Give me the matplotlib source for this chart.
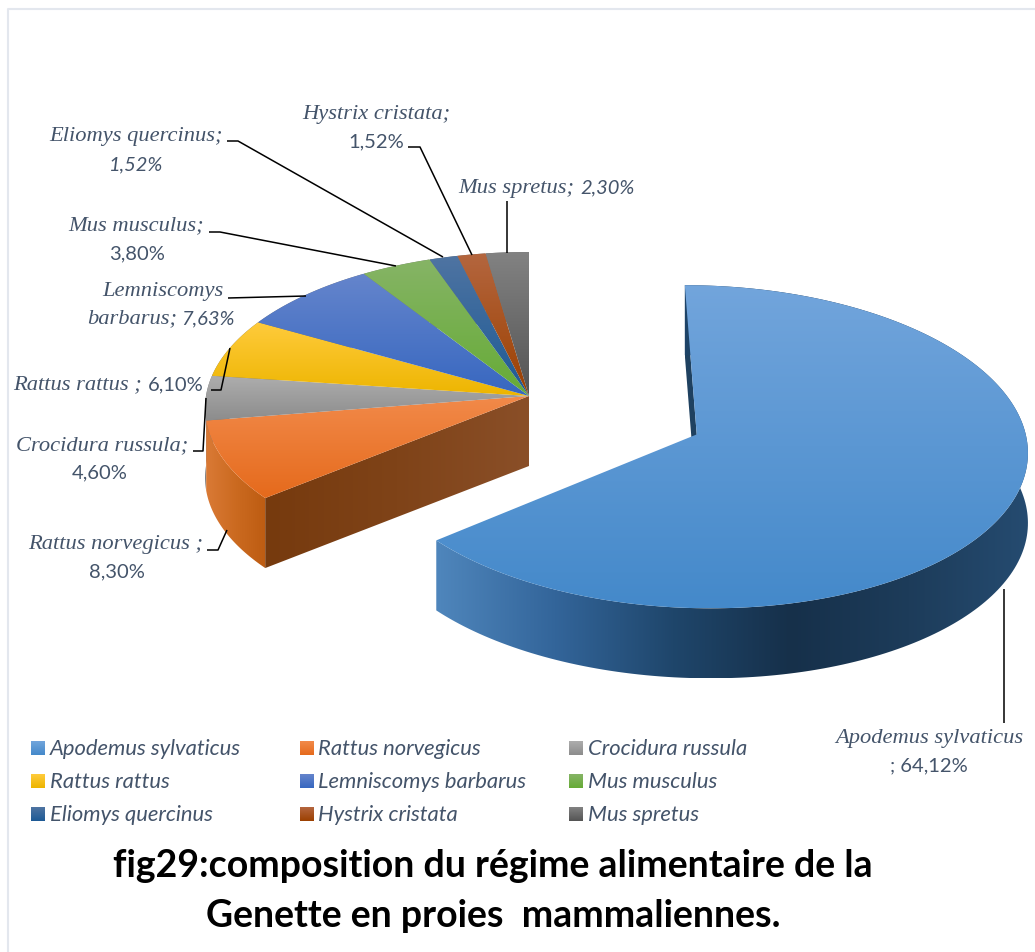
import numpy as np
import matplotlib
matplotlib.use("Agg")
import matplotlib.pyplot as plt
from matplotlib.colors import LinearSegmentedColormap
from matplotlib.patches import Polygon

species = ["Apodemus sylvaticus", "Rattus norvegicus", "Crocidura russula",
           "Rattus rattus", "Lemniscomys barbarus", "Mus musculus",
           "Eliomys quercinus", "Hystrix cristata", "Mus spretus"]
values = [64.12, 8.30, 4.60, 6.10, 7.63, 3.80, 1.52, 1.52, 2.30]
top_light = ["#72A5DC", "#F28A4A", "#ADADAD", "#FFCB3C", "#6585CC", "#86B466", "#4F74A2", "#B4663F", "#828282"]
top_dark = ["#4489CA", "#E56A1C", "#8C8C8C", "#EDB500", "#3767C0", "#66AB36", "#1D5A95", "#9C4000", "#545454"]

# projection of the pie, pixels
x0, y0 = 529, 397
rx, ry = 323, 144
persp = 0.075
depth = 70
explode = 0.565
ry2 = ry * (1 + persp)


def project(u, v, z=0.0):
    s = 1 / (1 + persp * v)
    return x0 + rx * u * s, y0 - ry2 * v * s + depth * z


fig = plt.figure(figsize=(10.35, 9.53), dpi=100)
ax = fig.add_axes([0, 0, 1, 1])


def grad_fill(xy, colors, horizontal=False, zorder=2):
    xy = np.array(xy)
    cmap = LinearSegmentedColormap.from_list("g", colors)
    g = np.linspace(0, 1, 256)
    g = g.reshape(1, -1) if horizontal else g.reshape(-1, 1)
    ext = [xy[:, 0].min(), xy[:, 0].max(), xy[:, 1].max(), xy[:, 1].min()]
    im = ax.imshow(g, cmap=cmap, extent=ext, aspect="auto", origin="upper",
                   zorder=zorder, interpolation="bilinear")
    p = Polygon(xy, closed=True, transform=ax.transData, fc="none", ec="none")
    ax.add_patch(p)
    im.set_clip_path(p)


total = sum(values)
edges = np.concatenate([[0], np.cumsum(values)]) / total * 2 * np.pi


def slice_points(i):
    a1, a2 = edges[i], edges[i + 1]
    off = explode if i == 0 else 0.0
    mid = (a1 + a2) / 2
    cu, cv = off * np.sin(mid), off * np.cos(mid)
    t = np.linspace(a1, a2, 200)
    return cu, cv, cu + np.sin(t), cv + np.cos(t)


def rim(i):
    cu, cv, u, v = slice_points(i)
    xa, ya = project(u, v)
    xb, yb = project(u, v, 1)
    return np.r_[np.c_[xa, ya], np.c_[xb, yb][::-1]]


def cut(i):
    # flat side along the first edge of the slice
    cu, cv, u, v = slice_points(i)
    return [project(cu, cv), project(u[0], v[0]), project(u[0], v[0], 1), project(cu, cv, 1)]


# sides
grad_fill(cut(0), ["#1F4160", "#1F4160"], zorder=2)
grad_fill(rim(0), ["#4F86BC", "#33659A", "#1F466B", "#16304A", "#1D3C5A", "#254B70"], horizontal=True, zorder=2)
for i in range(2, 9):
    grad_fill(rim(i), ["#777777", "#777777"], zorder=1)
grad_fill(rim(1), ["#DA7A36", "#CB6A20", "#BD5C12"], horizontal=True, zorder=3)
grad_fill(cut(1), ["#763A0E", "#7F4318", "#8A4F28"], horizontal=True, zorder=3)

# top faces
for i in range(9):
    cu, cv, u, v = slice_points(i)
    xs, ys = project(u, v)
    ax_, ay_ = project(cu, cv)
    pts = np.r_[[[ax_, ay_]], np.c_[xs, ys]]
    grad_fill(pts, [top_light[i], top_dark[i]], zorder=4)

# leader lines
leaders = [
    [(1004, 590), (1004, 724)],
    [(227, 531), (218, 551), (207, 551)],
    [(206, 399), (203, 452), (193, 452)],
    [(230, 349), (221, 391), (211, 391)],
    [(306, 297), (228, 299)],
    [(396, 267), (220, 233), (209, 233)],
    [(443, 258), (238, 142), (227, 142)],
    [(472, 256), (420, 148), (408, 148)],
    [(507, 254), (507, 202)],
]
for line in leaders:
    ax.plot(*zip(*line), color="black", lw=1.1, zorder=6, solid_capstyle="butt")

label_col = "#44546A"
serif = "Liberation Serif"
sans = "Lato"


def name(x, y, s, ha="center"):
    ax.text(x, y, s, family=serif, style="italic", fontsize=16.2, color=label_col, ha=ha, va="center", zorder=7)


def pct(x, y, s, ha="center", italic=False):
    ax.text(x, y, s, family=sans, style="italic" if italic else "normal", fontsize=14.5, color=label_col, ha=ha, va="center", zorder=7)


name(929, 739, "Apodemus sylvaticus")
pct(929, 766, "; 64,12%")
name(203, 545, "Rattus norvegicus ;", ha="right")
pct(117, 572, "8,30%")
name(188, 446, "Crocidura russula;", ha="right")
pct(100, 473, "4,60%")
name(142, 385, "Rattus rattus ;", ha="right")
pct(148, 385, "6,10%", ha="left")
name(224, 292, "Lemniscomys", ha="right")
name(177, 319, "barbarus;", ha="right")
pct(181, 319, "7,63%", ha="left", italic=True)
name(204, 226, "Mus musculus;", ha="right")
pct(137, 254, "3,80%")
name(223, 137, "Eliomys quercinus;", ha="right")
pct(136, 165, "1,52%", italic=True)
name(376, 114, "Hystrix cristata;")
pct(376, 142, "1,52%")
name(458, 188, "Mus spretus;", ha="left")
pct(635, 188, "2,30%", ha="right", italic=True)

# legend
leg_x = [31, 300, 569]
leg_y = [749, 782, 815]
for i, sp in enumerate(species):
    lx, ly = leg_x[i % 3], leg_y[i // 3]
    grad_fill([(lx, ly - 7), (lx + 14, ly - 7), (lx + 14, ly + 7), (lx, ly + 7)],
              [top_light[i], top_dark[i]], zorder=4)
    ax.text(lx + 18.5, ly, sp, family=sans, style="italic", fontsize=15.8, color=label_col, va="center")

# title
ax.text(493, 866, "fig29:composition du régime alimentaire de la", family=sans, weight="bold",
        fontsize=27, color="black", ha="center", va="center")
ax.text(493, 916, "Genette en proies  mammaliennes.", family=sans, weight="bold",
        fontsize=27, color="black", ha="center", va="center")

# frame of the chart
ax.plot([8, 8, 1035], [953, 10, 10], color="#E3E7EE", lw=1.5, zorder=0)

ax.set_xlim(0, 1035)
ax.set_ylim(953, 0)
ax.axis("off")
fig.savefig("out.png", dpi=100)
